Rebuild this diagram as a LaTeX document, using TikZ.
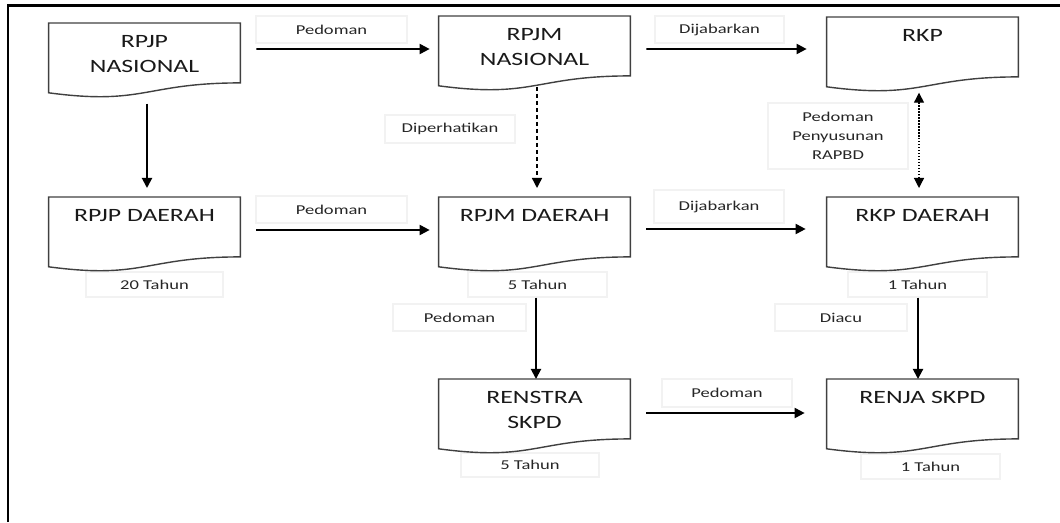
\documentclass[tikz,border=0pt]{standalone}
\usepackage{fontspec}
\setmainfont{Carlito}[FakeStretch=1.37]
\usetikzlibrary{arrows.meta}
\tikzset{
  docu/.style={anchor=north, minimum width=3.82cm, minimum height=1.48cm, inner xsep=0pt, inner ysep=7pt,
    font=\fontsize{10.7}{14.2}\selectfont, text=black!90,
    execute at begin node={\begin{minipage}[t][28.1pt][t]{3.82cm}\centering},
    execute at end node={\end{minipage}},
    append after command={\pgfextra{\draw[black!75, line width=0.8pt] (\tikzlastnode.north west) -- (\tikzlastnode.north east)
      -- ([yshift=0.296cm]\tikzlastnode.south east) .. controls ([yshift=0.296cm]\tikzlastnode.south) and ([yshift=-0.158cm]\tikzlastnode.south) .. ([yshift=0.098cm]\tikzlastnode.south west) -- cycle;}}},
  lbl/.style={draw=black!5, line width=0.6pt, inner sep=0pt, align=center,
    font=\fontsize{7.7}{10.8}\selectfont, text=black!85},
  arr/.style={line width=1.1pt, -{Triangle[length=5.7pt,width=5.7pt]}},
}
\begin{document}
\begin{tikzpicture}
\useasboundingbox (0,0) rectangle (21.2,10.44);
\draw[line width=1.4pt] (0.16,0) -- (0.16,10.33) -- (21.2,10.33);
\node[lbl, minimum width=3.02cm, minimum height=0.54cm] (l1) at (6.63,9.85) {Pedoman};
\node[lbl, minimum width=2.58cm, minimum height=0.54cm] (l2) at (14.39,9.85) {Dijabarkan};
\node[lbl, minimum width=2.60cm, minimum height=0.56cm] (l3) at (9.00,7.86) {Diperhatikan};
\node[lbl, minimum width=2.80cm, minimum height=1.32cm] (l4) at (16.76,7.72) {Pedoman\\Penyusunan\\RAPBD};
\node[lbl, minimum width=3.02cm, minimum height=0.54cm] (l5) at (6.63,6.25) {Pedoman};
\node[lbl, minimum width=2.60cm, minimum height=0.66cm] (l6) at (14.38,6.31) {Dijabarkan};
\node[lbl, minimum width=2.74cm, minimum height=0.50cm] (l7) at (3.09,4.75) {20 Tahun};
\node[lbl, minimum width=2.78cm, minimum height=0.50cm] (l8) at (10.75,4.75) {5 Tahun};
\node[lbl, minimum width=2.78cm, minimum height=0.50cm] (l9) at (18.35,4.75) {1 Tahun};
\node[lbl, minimum width=2.66cm, minimum height=0.54cm] (l10) at (9.19,4.09) {Pedoman};
\node[lbl, minimum width=2.64cm, minimum height=0.54cm] (l11) at (16.82,4.09) {Diacu};
\node[lbl, minimum width=2.60cm, minimum height=0.56cm] (l12) at (14.54,2.58) {Pedoman};
\node[lbl, minimum width=2.76cm, minimum height=0.48cm] (l13) at (10.60,1.14) {5 Tahun};
\node[lbl, minimum width=2.78cm, minimum height=0.50cm] (l14) at (18.61,1.11) {1 Tahun};
\node[docu] (rpjpn) at (2.89,9.98) {RPJP\\NASIONAL};
\node[docu] (rpjmn) at (10.69,10.12) {RPJM\\NASIONAL};
\node[docu] (rkp) at (18.45,10.10) {RKP};
\node[docu] (rpjpd) at (2.89,6.50) {RPJP DAERAH};
\node[docu] (rpjmd) at (10.69,6.50) {RPJM DAERAH};
\node[docu] (rkpd) at (18.45,6.50) {RKP DAERAH};
\node[docu] (renstra) at (10.69,2.86) {RENSTRA\\SKPD};
\node[docu] (renja) at (18.45,2.86) {RENJA SKPD};
\draw[arr] ([shift={(0.32,-0.52)}]rpjpn.north east) -- ([shift={(-0.18,-0.66)}]rpjmn.north west);
\draw[arr] ([shift={(0.32,-0.66)}]rpjmn.north east) -- ([shift={(-0.40,-0.64)}]rkp.north west);
\draw[arr] ([shift={(0.05,-0.12)}]rpjpn.south) -- ([shift={(0.05,0.18)}]rpjpd.north);
\draw[arr, line width=0.8pt, dash pattern=on 2.3pt off 1.7pt] ([shift={(0.05,0.08)}]rpjmn.south) -- ([shift={(0.05,0.18)}]rpjmd.north);
\draw[line width=0.7pt, densely dotted, {Triangle[length=5.7pt,width=5.7pt]}-{Triangle[length=5.7pt,width=5.7pt]}] ([shift={(-0.07,-0.02)}]rkp.south) -- ([shift={(-0.07,0.18)}]rkpd.north);
\draw[arr] ([shift={(0.32,-0.66)}]rpjpd.north east) -- ([shift={(-0.18,-0.66)}]rpjmd.north west);
\draw[arr] ([shift={(0.32,-0.64)}]rpjmd.north east) -- ([shift={(-0.42,-0.64)}]rkpd.north west);
\draw[arr] ([shift={(0.03,-0.52)}]rpjmd.south) -- ([xshift=0.03cm]renstra.north);
\draw[arr] ([shift={(-0.09,-0.52)}]rkpd.south) -- ([xshift=-0.09cm]renja.north);
\draw[arr] ([shift={(0.32,-0.68)}]renstra.north east) -- ([shift={(-0.44,-0.68)}]renja.north west);
\end{tikzpicture}
\end{document}
